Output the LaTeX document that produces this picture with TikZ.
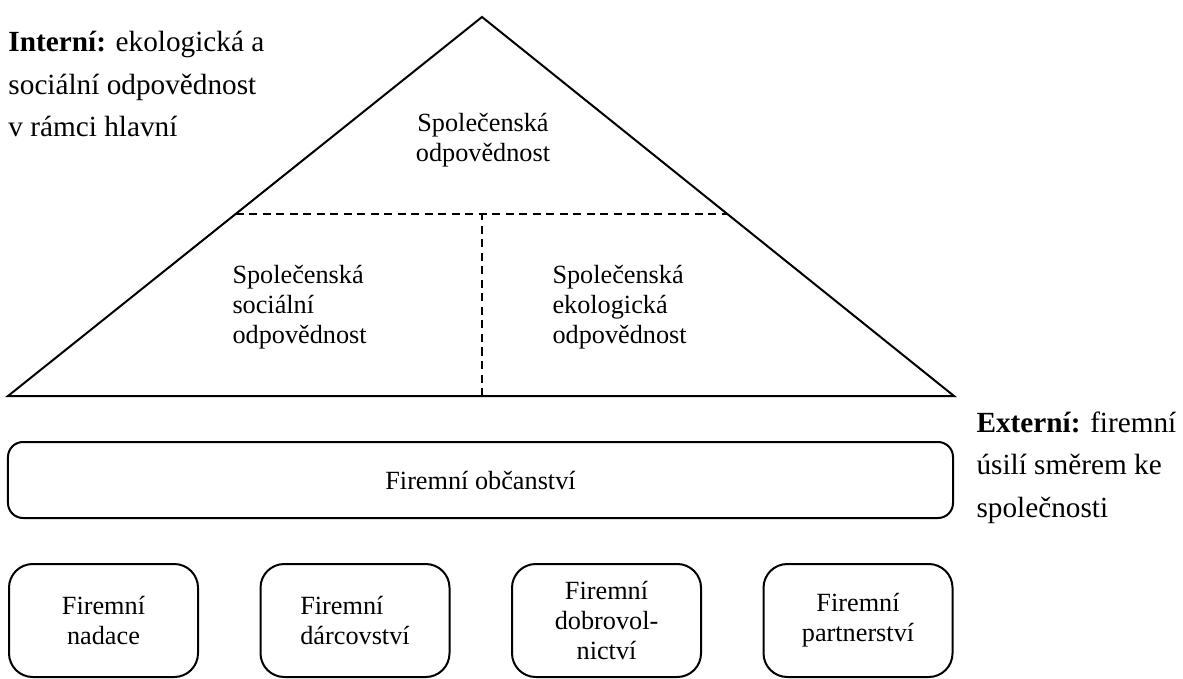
\documentclass[tikz,border=0pt]{standalone}
\usepackage{fontspec}
\setmainfont{Liberation Serif}
\usetikzlibrary{positioning, calc}

\begin{document}
\begin{tikzpicture}[
    x=0.4pt, y=-0.4pt,
    every node/.style={font=\fontsize{10.5}{12}\selectfont},
    roof/.style={line width=0.8pt, line join=miter},
    divider/.style={line width=0.7pt, dash pattern=on 3.2pt off 2.2pt},
    inner/.style={align=left, inner sep=0pt},
    wide/.style={rectangle, draw, line width=0.8pt, rounded corners=6pt, minimum width=378pt, minimum height=30.4pt},
    pillar/.style={rectangle, draw, line width=0.8pt, rounded corners=9.5pt, minimum width=75.6pt, minimum height=45.2pt, align=center, inner sep=2pt},
    side/.style={align=left, inner sep=0pt, font=\fontsize{11.7}{17}\selectfont},
]
\useasboundingbox (0,0) rectangle (1183,678);

% === Roof: triangle ===
\coordinate (apex) at (482,17);
\coordinate (baseL) at (8,396);
\coordinate (baseR) at (954,396);
\draw[roof] (baseL) -- (apex) -- (baseR) -- cycle;

% dashed split
\coordinate (divL) at ($(baseL)!0.48!(apex)$);
\coordinate (divR) at ($(baseR)!0.48!(apex)$);
\coordinate (baseM) at (482,396);
\draw[divider] (divL) -- (divR);
\draw[divider] (baseM) -- (baseM |- divL);

% roof texts
\node[align=center, inner sep=0pt] (csr) at (483,140) {Společenská\\odpovědnost};
\node[inner, anchor=west] (social) at (232,307) {Společenská\\sociální\\odpovědnost};
\node[inner, anchor=west] (eco) at (552,307) {Společenská\\ekologická\\odpovědnost};

% === Corporate citizenship ===
\node[wide] (citizen) at (480.5,480) {Firemní občanství};

% === Pillars ===
\node[pillar, anchor=north west] (nadace) at (8,563) {Firemní\\nadace};
\node[pillar, align=left, right=24.2pt of nadace] (darci) {Firemní\\dárcovství};
\node[pillar, right=24.2pt of darci] (dobro) {Firemní\\dobrovol-\\nictví};
\node[pillar, right=24.2pt of dobro] (partner) {Firemní\\partnerství};

% === Side labels ===
\node[side, anchor=north west] (internal) at (8,31) {\textbf{Interní:} ekologická a\\sociální odpovědnost\\v rámci hlavní};
\node[side, anchor=north west] (external) at (976,411) {\textbf{Externí:} firemní\\úsilí směrem ke\\společnosti};

\end{tikzpicture}
\end{document}
